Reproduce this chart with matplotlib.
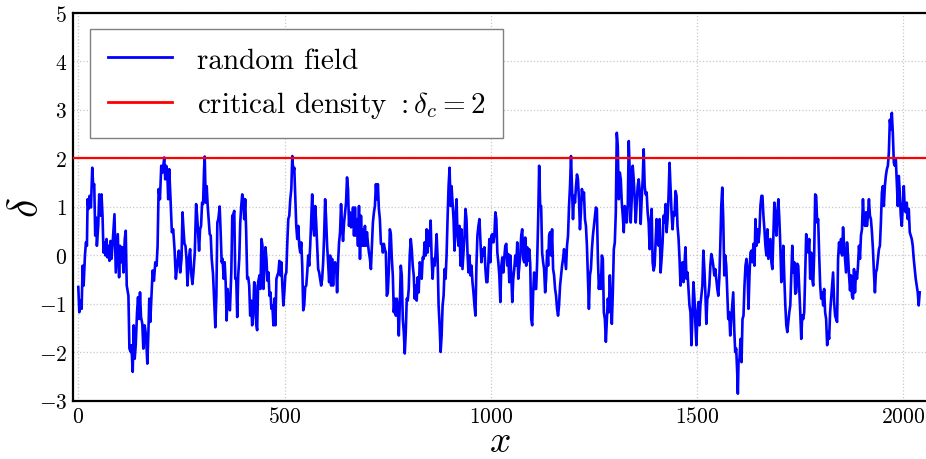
import numpy as np
import matplotlib
matplotlib.use("Agg")
import matplotlib.pyplot as plt

# ---------------- data ----------------
x_seg1 = [0, 2.4, 4.8, 8.0, 10.5, 12.9, 16.1, 18.5, 20.9, 22.5, 24.9, 27.3, 30.6, 33.8, 36.2, 38.6, 41.0,
          43.4, 45.0, 48.3, 50.7, 53.1, 56.3, 58.7, 61.1, 63.5, 66.0, 68.4, 70.8, 74.0, 75.6, 78.0, 80.4,
          82.8, 87.7, 90.9, 93.3, 95.7, 98.9, 101.3, 103.8, 107.0, 109.4, 112.6, 115.0, 117.4, 121.5,
          123.9, 127.1, 128.7, 131.9, 134.3, 136.7, 139.2, 142.4, 144.8, 147.2, 149.6, 152.0, 155.2,
          157.6, 160.9, 164.1, 167.3, 169.7, 172.1, 174.5, 177.0, 180.2, 183.4, 186.6, 189.8, 192.2,
          194.7, 197.9, 201.1, 204.3, 208.3, 210.7, 213.1, 215.6, 218.0, 220.4, 223.6, 226.8, 230.0,
          233.3, 236.5, 240.5]
delta_seg1 = [-0.66, -1.18, -0.94, -1.11, -0.22, -0.63, -0.01, 0.26, 0.19, 1.15, 0.95, 1.22, 0.98, 1.80,
              1.42, 1.46, 0.40, 0.77, 0.19, 0.60, 1.25, 0.81, 1.25, 0.81, 0.05, 0.26, -0.01, 0.33, -0.05,
              0.19, -0.12, 0.29, -0.08, 0.19, 0.84, -0.36, 0.05, 0.43, -0.46, 0.19, -0.15, 0.16, -0.36,
              0.33, 0.50, -0.63, -0.84, -1.93, -2.00, -1.86, -2.41, -1.45, -2.14, -1.86, -1.18, -0.87,
              -1.32, -0.77, -1.28, -1.42, -1.93, -1.45, -1.66, -2.24, -1.66, -0.90, -1.38, -0.90, -0.32,
              -0.53, -0.15, -0.22, 0.19, 1.36, 1.15, 1.84, 1.70, 2.01, 1.56, 1.84, 1.70, 1.15, 1.77, 1.15,
              0.47, 0.53, 0.12, -0.49, -0.15]

x_seg2 = [243.7, 247.0, 250.2, 252.6, 255.0, 257.4, 259.8, 262.3, 264.7, 267.9, 271.1, 273.5, 276.7, 279.1,
          282.4, 285.6, 288.0, 290.4, 292.8, 295.2, 297.6, 300.1, 302.5, 304.9, 306.5, 308.9, 311.3,
          313.7, 316.1, 318.6, 321.0, 323.4, 326.6, 329.0, 332.2, 334.7, 337.1, 339.5, 342.7, 345.1,
          347.5, 349.9, 352.3, 354.8, 357.2, 359.6, 362.0, 364.4, 367.6, 370.9, 373.3, 375.7, 378.1,
          380.5, 382.9, 385.3, 387.7, 390.2, 392.6, 395.0, 397.4, 399.8, 402.2, 404.6, 407.0, 409.5,
          411.9, 414.3, 416.7, 419.1, 421.5, 423.9, 426.4, 428.8, 431.2, 433.6, 436.0, 439.2, 441.6,
          444.1, 446.5, 448.9, 451.3, 453.7, 456.1, 458.5, 461.0, 463.4, 465.8, 468.2, 470.6, 473.0,
          475.4, 477.8, 480.3, 482.7, 485.1, 487.5, 489.9, 492.3, 494.7, 497.1]
delta_seg2 = [0.09, -0.36, -0.08, 0.88, 0.53, 0.23, 0.19, -0.08, -0.63, -0.08, 0.12, -0.36, -0.60, -0.36,
              0.05, 1.05, 0.81, 0.47, 0.09, 0.53, 0.60, 1.08, 1.05, 1.77, 2.03, 1.08, 1.42, 1.01, 0.74,
              0.43, 0.40, -0.08, -0.39, -0.84, -1.49, -0.84, 0.67, 0.74, 1.00, 0.47, -0.15, -0.08, -0.49,
              -0.15, -0.56, -1.35, -0.70, -1.04, -1.14, -0.36, 0.81, 0.84, 0.91, -0.49, -0.49, -1.28,
              -0.42, -0.08, 0.67, 1.01, 1.25, 1.15, 0.74, 1.15, 0.47, -0.49, -0.46, -0.63, -1.25, -0.94,
              -1.45, -1.25, -0.56, -0.63, -1.42, -1.55, -0.56, -0.42, -0.70, 0.33, 0.19, -0.70, -0.22,
              0.16, -0.08, -0.53, -0.36, -0.84, -0.77, -1.11, -1.04, -1.45, -0.90, -1.45, -0.49, -0.42,
              -0.36, -0.12, -0.42, -0.15, -0.63, -1.04]

x_seg3 = [499.5, 501.9, 504.3, 506.7, 509.1, 511.5, 513.9, 516.4, 518.8, 521.2, 523.6, 526.0, 528.4, 530.8,
          533.3, 535.7, 538.1, 540.5, 542.9, 545.3, 547.7, 550.1, 552.6, 555.0, 557.4, 559.8, 562.2,
          564.6, 567.0, 569.4, 571.9, 574.3, 576.7, 579.1, 581.5, 583.9, 586.3, 588.8, 591.2, 593.6,
          596.0, 598.4, 600.8, 603.2, 605.6, 608.1, 610.5, 612.9, 615.3, 617.7, 620.1, 622.5, 625.0,
          627.4, 629.8, 632.2, 634.6, 637.0, 639.4, 641.8, 644.3, 646.7, 649.1, 651.5, 653.9, 656.3,
          658.7, 661.2, 663.6, 666.0, 668.4, 670.8, 673.2, 675.6, 678.0, 680.5, 682.9, 685.3, 687.7,
          690.1, 692.5, 694.9, 697.4, 699.8, 702.2, 704.6, 707.0, 709.4, 711.8, 714.2, 716.7, 719.1,
          721.5, 723.9, 726.3, 728.7, 731.1, 733.6, 736.0, 738.4, 740.8, 743.2, 745.6, 748.0, 750.4]
delta_seg3 = [-0.77, -0.42, -0.36, 0.26, 0.74, 0.81, 1.15, 1.36, 2.04, 1.70,
              1.80, 1.22, 0.60, 0.33, 0.60, 0.19, 0.05, 0.26, -0.22, -1.14,
              -1.04, -0.66, -0.63, -0.36, -0.01, -0.22, 0.19, 0.74, 1.25, 0.60,
              0.40, 1.01, 0.67, 0.19, -0.29, -0.36, -0.49, -0.63, -0.49, -0.15,
              0.40, 1.15, 0.74, 0.19, -0.15, -0.56, -0.01, -0.63, -0.08, -0.63,
              -0.22, -0.15, -0.22, -0.77, -0.15, 0.26, 0.47, 1.05, 0.60, 0.29,
              0.67, 0.88, 1.08, 1.60, 1.36, 0.60, 0.88, 0.57, 0.67, 0.98,
              0.40, 0.98, 0.40, 0.74, 0.19, 1.01, -0.08, 0.81, 0.19, 0.53,
              0.19, 0.60, 0.19, 0.47, 0.23, 0.05, -0.08, -0.29, 0.19, 0.67,
              0.88, 1.01, 1.46, 1.15, 1.46, 0.95, 0.74, 0.23, 0.23, 0.05,
              0.23, 0.12, 0.05, -0.84, -0.77]

x_seg4 = [752.9, 755.3, 757.7, 760.1, 762.5, 764.9, 767.3, 769.8, 772.2, 774.6,
          777.0, 779.4, 781.8, 784.2, 786.7, 789.1, 791.5, 793.9, 796.3, 798.7,
          801.1, 803.5, 806.0, 808.4, 810.8, 813.2, 815.6, 818.0, 820.4, 822.8,
          825.3, 827.7, 830.1, 832.5, 834.9, 837.3, 839.7, 842.2, 844.6, 847.0,
          849.4, 851.8, 854.2, 856.6, 859.0, 861.5, 863.9, 866.3, 868.7, 871.1,
          873.5, 875.9, 878.4, 880.8, 883.2, 885.6, 888.0, 890.4, 892.8, 895.2,
          897.7, 900.1, 902.5, 904.9, 907.3, 909.7, 912.1, 914.6, 917.0, 919.4,
          921.8, 924.2, 926.6, 929.0, 931.4, 933.9, 936.3, 938.7, 941.1, 943.5,
          945.9, 948.3, 950.8, 953.2, 955.6, 958.0, 960.4, 962.8, 965.2, 967.6,
          970.1, 972.5, 974.9, 977.3, 979.7, 982.1, 984.5, 987.0, 989.4, 991.8,
          994.2, 996.6, 999.0, 1001.4, 1003.8]
delta_seg4 = [-0.29, 0.53, 0.43, -0.08, -0.42, -1.18, -0.90, -1.25, -0.90, -1.11,
              -1.66, -1.04, -0.22, -0.42, -1.32, -1.59, -2.03, -1.59, -0.90, -0.94,
              -0.70, -0.01, 0.33, 0.12, -0.22, -0.42, -0.90, -0.63, -0.94, -0.46,
              -0.77, -0.15, -0.22, -0.49, -0.05, -0.08, 0.26, -0.01, 0.53, 0.05,
              0.50, 0.19, 0.71, -0.08, -0.49, -0.08, -0.22, 0.05, 0.43, -0.08,
              -1.04, -1.45, -2.00, -1.66, -1.04, -0.84, -0.29, -0.49, -0.01, 0.74,
              1.42, 1.80, 1.01, 1.42, 1.08, 0.74, 0.09, 0.81, 1.15, 0.40,
              0.19, 0.60, -0.22, 0.53, -0.29, 0.05, 0.40, 0.95, 0.74, 0.05,
              -0.36, -0.01, -0.42, -0.22, -0.56, -0.77, -1.04, -1.25, -0.22, 0.40,
              0.60, 0.74, 0.29, -0.15, 0.12, -0.01, 0.16, -0.29, -0.56, -0.56,
              -0.15, 0.33, -0.15, 0.40, 0.43]

x_seg5 = [1006.3, 1008.7, 1011.1, 1013.5, 1015.9, 1018.3, 1020.7, 1023.2, 1025.6, 1028.0,
          1030.4, 1032.8, 1035.2, 1037.6, 1040.1, 1042.5, 1044.9, 1047.3, 1049.7, 1052.1,
          1054.5, 1056.9, 1059.4, 1061.8, 1064.2, 1066.6, 1069.0, 1071.4, 1073.8, 1076.2,
          1078.7, 1081.1, 1083.5, 1085.9, 1088.3, 1090.7, 1093.1, 1095.6, 1098.0, 1100.4,
          1102.8, 1105.2, 1107.6, 1110.0, 1112.4, 1114.9, 1117.3, 1119.7, 1122.1, 1124.5,
          1126.9, 1129.3, 1131.8, 1134.2, 1136.6, 1139.0, 1141.4, 1143.8, 1146.2, 1148.6,
          1151.1, 1153.5, 1155.9, 1158.3, 1160.7, 1163.1, 1165.5, 1168.0, 1170.4, 1172.8,
          1175.2, 1177.6, 1180.0, 1182.4, 1184.8, 1187.3, 1189.7, 1192.1, 1194.5, 1196.9,
          1199.3, 1201.7, 1204.2, 1206.6, 1209.0, 1211.4, 1213.8, 1216.2, 1218.6, 1221.0,
          1223.5, 1225.9, 1228.3, 1230.7, 1233.1, 1235.5, 1237.9, 1240.4, 1242.8, 1245.2,
          1247.6, 1250.0, 1252.4, 1254.8, 1257.2]
delta_seg5 = [0.26, 0.40, 0.88, 0.74, 0.05, -0.15, -0.42, -0.97, -0.22, -0.05,
              -0.36, -0.05, 0.19, 0.23, -0.22, 0.02, -0.56, -0.01, -0.42, -0.97,
              -0.49, -0.29, -0.01, -0.22, 0.26, -0.49, -0.25, -0.01, 0.40, 0.53,
              -0.08, -0.15, 0.36, -0.22, 0.16, -0.12, 0.12, -0.18, -1.32, -1.45,
              -0.77, -0.36, -0.70, -0.70, -0.15, 0.74, 1.84, 1.01, 1.01, 0.05,
              -0.15, -0.29, -0.77, -0.49, 0.09, -0.22, 0.40, 0.47, -0.01, 0.53,
              -0.29, -0.42, -0.70, -0.84, -1.11, -1.25, -1.04, -0.63, -0.42, -0.22,
              -0.08, 0.12, -0.08, -0.29, 0.19, 0.40, 1.01, 1.42, 2.04, 1.42,
              0.74, 1.22, 1.08, 1.42, 1.66, 1.56, 1.15, 0.53, 0.88, 1.36,
              1.15, 1.29, 0.74, 0.60, 0.19, -0.49, -1.11, -0.42, -0.29, 0.12,
              0.40, 0.60, 0.81, 0.98, 0.95]

x_seg6 = [1259.7, 1262.1, 1264.5, 1266.9, 1269.3, 1271.7, 1274.1, 1276.6, 1279.0, 1281.4,
          1283.8, 1286.2, 1288.6, 1291.0, 1293.5, 1295.9, 1298.3, 1300.7, 1303.1, 1305.5,
          1307.9, 1310.3, 1312.8, 1315.2, 1317.6, 1320.0, 1322.4, 1324.8, 1327.2, 1329.6,
          1332.1, 1334.5, 1336.9, 1339.3, 1341.7, 1344.1, 1346.5, 1349.0, 1351.4, 1353.8,
          1356.2, 1358.6, 1361.0, 1363.4, 1365.8, 1368.3, 1370.7, 1373.1, 1375.5, 1377.9,
          1380.3, 1382.7, 1385.2, 1387.6, 1390.0, 1392.4, 1394.8, 1397.2, 1399.6, 1402.0,
          1404.5, 1406.9, 1409.3, 1411.7, 1414.1, 1416.5, 1418.9, 1421.4, 1423.8, 1426.2,
          1428.6, 1431.0, 1433.4, 1435.8, 1438.2, 1440.7, 1443.1, 1445.5, 1447.9, 1450.3,
          1452.7, 1455.1, 1457.6, 1460.0, 1462.4, 1464.8, 1467.2, 1469.6, 1472.0, 1474.4,
          1476.9, 1479.3, 1481.7, 1484.1, 1486.5, 1488.9, 1491.3, 1493.8, 1496.2, 1498.6,
          1501.0, 1503.4, 1505.8, 1508.2]
delta_seg6 = [-0.08, -0.70, -0.42, -0.70, -0.01, -0.08, -1.18, -1.32, -1.79, -1.32,
              -0.90, -1.18, -0.42, -1.04, -1.42, -0.77, 0.12, 0.26, 0.88, 2.52,
              2.25, 1.15, 1.70, 1.56, 1.08, 0.81, 0.47, 1.01, 0.95, 0.67,
              1.01, 2.35, 1.70, 0.67, 1.15, 1.84, 1.56, 1.15, 0.67, 1.08,
              1.42, 1.56, 1.32, 0.64, 1.15, 1.56, 2.18, 1.42, 1.25, 1.29,
              0.88, 0.67, 0.12, 0.67, 0.95, -0.15, -0.32, -0.22, 0.26, 0.74,
              0.26, 0.19, 0.74, -0.36, -0.08, 0.26, 0.81, 0.67, 1.05, 0.47,
              0.74, 1.22, 1.90, 1.36, 0.88, 0.53, 0.88, 0.81, 1.32, 1.22,
              0.60, 0.36, -0.08, -0.63, -0.22, -0.15, -0.56, -0.22, 0.16, -0.49,
              -0.36, -0.70, -1.04, -1.18, -1.86, -1.25, -0.56, -0.90, -1.45, -1.86,
              -1.18, -0.97, -1.45, -1.04]

x_seg7 = [1513.0, 1515.4, 1517.8, 1520.2, 1522.6, 1525.0, 1527.4, 1529.9, 1532.3, 1534.7,
          1537.1, 1539.5, 1541.9, 1544.3, 1546.8, 1549.2, 1551.6, 1554.0, 1556.4, 1558.8,
          1561.2, 1563.6, 1566.1, 1568.5, 1570.9, 1573.3, 1575.7, 1578.1, 1580.5, 1583.0,
          1585.4, 1587.8, 1590.2, 1592.6, 1595.0, 1597.4, 1599.0, 1600.6,
          1603.1, 1605.5, 1607.9, 1610.3, 1612.7, 1615.1, 1617.5, 1620.0, 1622.4, 1624.8,
          1627.2, 1629.6, 1632.0, 1634.4, 1636.8, 1639.3, 1641.7, 1644.1, 1646.5, 1648.9,
          1651.3, 1653.7, 1656.2, 1658.6, 1661.0, 1663.4, 1665.8, 1668.2, 1670.6, 1673.0,
          1675.5, 1677.9, 1680.3, 1682.7, 1685.1, 1687.5, 1689.9, 1692.4, 1694.8, 1697.2,
          1699.6, 1702.0, 1704.4, 1706.8, 1709.2, 1711.7, 1714.1, 1716.5, 1718.9, 1721.3,
          1723.7, 1726.1, 1728.6, 1731.0, 1733.4, 1735.8, 1738.2, 1740.6, 1743.0, 1745.4,
          1747.9, 1750.3, 1752.7, 1755.1, 1757.5, 1759.9, 1762.3, 1764.7]
delta_seg7 = [-0.63, 0.09, -0.29, -0.77, -1.42, -0.90, -0.84, -0.63, -0.22, 0.02,
              -0.08, -0.22, -0.42, -0.29, -0.49, -0.70, -0.84, -0.49, 0.19, 1.01,
              1.39, 0.74, -0.42, -0.01, -0.22, -0.77, -1.32, -1.18, -1.66, -1.32,
              -1.04, -0.77, -1.52, -2.00, -1.93, -2.41, -2.86, -2.21,
              -2.14, -1.73, -2.21, -1.32, -1.25, -0.63, -0.22, -0.08, -0.29, -1.11,
              -0.42, 0.05, 0.09, -0.15, 0.23, -0.22, 0.74, 0.19, 0.53, 0.26,
              0.47, 1.01, 1.22, 1.22, 0.81, 0.53, 0.19, -0.01, 0.53, -0.08,
              0.12, 0.33, -0.15, -0.29, 0.40, 1.08, 0.81, 0.40, 0.84, 1.15,
              0.74, 0.19, -0.56, -0.42, 0.19, -0.49, -1.04, -1.45, -1.59, -1.38,
              -1.18, -1.04, -0.42, 0.19, -0.36, -0.15, -0.80, -0.77, -0.18, -0.22,
              -0.70, -1.18, -1.73, -1.25, -1.32, -1.18, -0.36, 0.43]

x_seg8 = [1767.2, 1769.6, 1772.0, 1774.4, 1776.8, 1779.3, 1781.7, 1784.1, 1786.5, 1788.9,
          1791.3, 1793.7, 1796.2, 1798.6, 1801.0, 1803.4, 1805.8, 1808.2, 1810.6, 1813.0,
          1815.5, 1817.9, 1820.3, 1822.7, 1825.1, 1827.5, 1829.9, 1832.4, 1834.8, 1837.2,
          1839.6, 1842.0, 1844.4, 1846.8, 1849.2, 1851.7, 1854.1, 1856.5, 1858.9, 1861.3,
          1863.7, 1866.1, 1868.6, 1871.0, 1873.4, 1875.8, 1878.2, 1880.6, 1883.0, 1885.4,
          1887.9, 1890.3, 1892.7, 1895.1, 1897.5, 1899.9, 1902.3, 1904.8, 1907.2, 1909.6,
          1912.0, 1914.4, 1916.8, 1919.2, 1921.6, 1924.1, 1926.5, 1928.9, 1931.3, 1933.7,
          1936.1, 1938.5, 1941.0, 1943.4, 1945.8, 1948.2, 1950.6, 1953.0, 1955.4, 1957.8,
          1960.3, 1962.7, 1965.1, 1967.5, 1969.9, 1972.3, 1974.7, 1977.2, 1979.6, 1982.0,
          1984.4, 1986.8, 1989.2, 1991.6, 1994.0, 1996.5, 1998.9, 2001.3, 2003.7, 2006.1,
          2008.5, 2010.9, 2013.4, 2015.8, 2018.2, 2020.6, 2023.0, 2025.4, 2027.8, 2030.2,
          2032.7, 2035.1, 2037.5, 2039.9]
delta_seg8 = [0.19, 0.05, 0.33, -0.49, 0.05, -0.49, -0.63, 0.05, 1.25, 1.22,
              0.67, 0.74, -0.01, -0.63, -0.90, -0.77, -1.04, -0.70, -1.18, -1.32,
              -1.86, -1.59, -1.73, -1.18, -0.90, -0.63, -0.36, -0.97, -1.25, -1.32,
              -1.38, -0.08, 0.26, 0.05, 0.33, -0.01, 0.57, 0.19, -0.08, -0.36,
              0.26, -0.01, -0.42, -0.73, -0.42, -0.84, -0.90, -0.29, -0.77, -0.36,
              -0.49, -0.22, 0.19, -0.08, 0.40, 0.53, 1.15, 0.67, 0.60, 0.88,
              0.60, 0.81, 1.15, 0.81, 0.74, 0.47, 0.12, -0.36, -0.77, -0.36,
              -0.29, -0.08, 0.12, 0.19, 0.67, 1.29, 1.42, 1.01, 1.42, 1.63,
              1.77, 1.84, 2.11, 2.79, 2.59, 2.93, 2.52, 1.90, 1.84, 1.97,
              1.49, 1.01, 1.63, 1.29, 0.81, 0.60, 1.01, 1.42, 0.95, 0.88,
              1.08, 0.74, 0.95, 0.47, 0.40, 0.33, 0.19, -0.08, -0.29, -0.49,
              -0.63, -0.77, -1.04, -0.77]

delta_c = 2
x_ticks = [0, 500, 1000, 1500, 2000]
y_ticks = [-3, -2, -1, 0, 1, 2, 3, 4, 5]
label_field = "random field"
label_crit = r"critical density $:\delta_c = 2\;$"

x_segs = [x_seg1, x_seg2, x_seg3, x_seg4, x_seg5, x_seg6, x_seg7, x_seg8]
d_segs = [delta_seg1, delta_seg2, delta_seg3, delta_seg4, delta_seg5, delta_seg6, delta_seg7, delta_seg8]
for i, (a, b) in enumerate(zip(x_segs, d_segs)):
    assert len(a) == len(b), (i + 1, len(a), len(b))
x_all = np.concatenate(x_segs)
delta_all = np.concatenate(d_segs)

# ---------------- style ----------------
plt.rcParams.update({
    "font.family": "serif",
    "font.serif": ["cmr10", "DejaVu Serif"],
    "mathtext.fontset": "cm",
    "axes.formatter.use_mathtext": True,
    "axes.unicode_minus": True,
})

fig = plt.figure(figsize=(9.26, 4.60), dpi=100)
ax = fig.add_axes([72.7 / 926, 1 - 401.5 / 460, (928 - 72.7) / 926, 388 / 460])

ax.plot(x_all, delta_all, color="#0000ff", lw=1.9, label=label_field, zorder=3)
ax.axhline(delta_c, color="#ff0000", lw=1.6, label=label_crit, zorder=4)

ax.set_xlim(-13.6, 2060)
ax.set_ylim(-3, 5)
ax.set_xticks(x_ticks)
ax.set_yticks(y_ticks)
ax.grid(True, color="#c8c8c8", linestyle=":", linewidth=0.9)
ax.set_axisbelow(True)
ax.tick_params(axis="both", which="both", length=0, labelsize=15.5, pad=4)
for s in ax.spines.values():
    s.set_linewidth(1.6)
    s.set_color("black")

ax.set_xlabel(r"$x$", fontsize=27, va="center")
ax.xaxis.set_label_coords(0.5, -0.106)
ax.set_ylabel(r"$\delta$", fontsize=30)
ax.yaxis.set_label_coords(-0.031, 0.5)

leg = ax.legend(loc="upper left", bbox_to_anchor=(0.0203, 0.957), borderaxespad=0,
                fontsize=21, handlelength=2.2, handletextpad=0.83, borderpad=0.62,
                labelspacing=0.52, fancybox=False, framealpha=1)
leg.get_frame().set_edgecolor("#808080")
leg.get_frame().set_linewidth(1.0)
for h in leg.get_lines():
    h.set_linewidth(2.0)

fig.savefig("out.png", dpi=100)
